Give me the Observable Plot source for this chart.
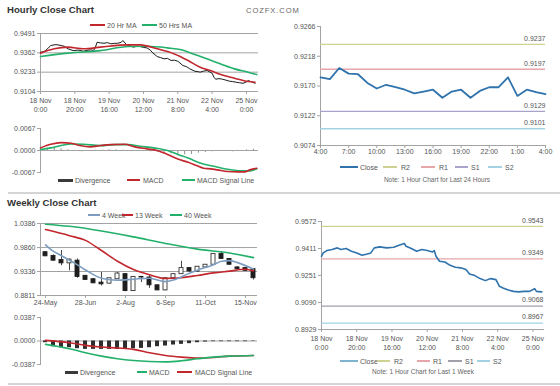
<!DOCTYPE html>
<html><head><meta charset="utf-8">
<script src="https://cdn.jsdelivr.net/npm/d3@7"></script>
<script src="https://cdn.jsdelivr.net/npm/@observablehq/plot@0.6"></script>
<style>
body{margin:0;background:#fff;}
#root{position:relative;width:560px;height:386px;overflow:hidden;font-family:"Liberation Sans",Arial,sans-serif;background:#fff;}
.t{position:absolute;white-space:nowrap;}
</style></head><body><div id="root"></div>
<script>
// ---------- DATA ----------
// Hourly (last week) chart: hour index from 18 Nov 0:00 (weekend removed)
const hourTickIdx = [0, 20, 40, 60, 80, 100, 120];
const hourTickLabels = ["18 Nov\n0:00", "18 Nov\n20:00", "19 Nov\n16:00", "20 Nov\n12:00", "21 Nov\n8:00", "22 Nov\n4:00", "25 Nov\n0:00"];
const hourYTicks = [0.9104, 0.9233, 0.9362, 0.9491];
const hCloseIdx = [0,2,3,5,6,9,12,14,16,19,22,25,27,29,31,32,33,35,37,39,41,43,45,47,48,50,52,54,56,58,60,62,64,65,68,70,72,74,76,78,80,83,85,87,90,92,93,95,97,100,101,102,104,106,108,110,112,114,116,118,120,121,123,125];
const hCloseVal = [0.9366,0.9370,0.9377,0.9400,0.9411,0.9417,0.9411,0.9405,0.9389,0.9377,0.9380,0.9373,0.9378,0.9382,0.9378,0.9400,0.9433,0.9428,0.9426,0.9430,0.9422,0.9425,0.9426,0.9432,0.9444,0.9418,0.9410,0.9400,0.9405,0.9404,0.9398,0.9395,0.9380,0.9366,0.9337,0.9330,0.9322,0.9325,0.9311,0.9313,0.9306,0.9277,0.9270,0.9255,0.9239,0.9236,0.9233,0.9240,0.9244,0.9226,0.9200,0.9186,0.9190,0.9186,0.9180,0.9173,0.9170,0.9166,0.9162,0.9159,0.9168,0.9177,0.9168,0.9159];
const ma20Idx = [0,8,16,25,35,51,58,68,78,86,93,99,105,113,121,125];
const ma20Val = [0.9360,0.9389,0.9400,0.9389,0.9400,0.9415,0.9415,0.9389,0.9355,0.9311,0.9266,0.9244,0.9217,0.9193,0.9171,0.9166];
const ma50Idx = [0,16,35,51,62,74,82,89,97,105,113,121,126];
const ma50Val = [0.9337,0.9360,0.9377,0.9404,0.9406,0.9395,0.9382,0.9355,0.9322,0.9288,0.9255,0.9233,0.9217];
// Hourly MACD
const macdHYTicks = [-0.0067, 0.0000, 0.0067];
const macdHIdx = [0,6,12,18,23,29,35,41,49,55,62,68,74,80,86,91,95,99,103,109,115,119,122,126];
const macdHVal = [0.0008,0.0019,0.0024,0.0022,0.0015,0.0011,0.0015,0.0018,0.0019,0.0011,0.0005,0.0000,-0.0012,-0.0026,-0.0036,-0.0046,-0.0054,-0.0056,-0.0059,-0.0064,-0.0065,-0.0065,-0.0059,-0.0054];
const sigHIdx = [0,6,12,18,25,35,43,51,58,66,74,80,86,93,101,109,117,122,126];
const sigHVal = [0.0003,0.0008,0.0015,0.0020,0.0019,0.0015,0.0018,0.0018,0.0013,0.0008,0.0000,-0.0012,-0.0023,-0.0038,-0.0048,-0.0057,-0.0062,-0.0062,-0.0056];
const divHIdx = [0,4,8,12,16,20,24,28,32,36,40,44,48,52,56,60,64,68,72,76,80,84,88,92,96,100,104,108,112,116,120,124];
const divHVal = [0.0005,0.0007,0.0008,0.0005,0.0002,-0.0002,-0.0004,-0.0003,0.0001,0.0001,0.0002,0.0002,0.0001,-0.0001,-0.0002,-0.0003,-0.0004,-0.0006,-0.0008,-0.0010,-0.0012,-0.0013,-0.0012,-0.0008,-0.0006,-0.0004,-0.0002,-0.0003,-0.0004,-0.0001,0.0002,0.0004];
// Last 24 hours chart
const h24Labels = ["4:00","7:00","10:00","13:00","16:00","19:00","22:00","1:00","4:00"];
const h24TickIdx = [0,3,6,9,12,15,18,21,24];
const h24YTicks = [0.9074, 0.9122, 0.9170, 0.9218, 0.9266];
const h24Close = [0.9184,0.9181,0.9199,0.9190,0.9189,0.9175,0.9166,0.9172,0.9168,0.9164,0.9158,0.9161,0.9164,0.9151,0.9161,0.9164,0.9151,0.9162,0.9168,0.9168,0.9184,0.9154,0.9164,0.9160,0.9157];
const pivotNames = ["R2", "R1", "S1", "S2"];
const pivot24 = [0.9237, 0.9197, 0.9129, 0.9101];
// Weekly chart
const weeks = ["24-May","31-May","7-Jun","14-Jun","21-Jun","28-Jun","5-Jul","12-Jul","19-Jul","26-Jul","2-Aug","9-Aug","16-Aug","23-Aug","30-Aug","6-Sep","13-Sep","20-Sep","27-Sep","4-Oct","11-Oct","18-Oct","25-Oct","1-Nov","8-Nov","15-Nov","22-Nov"];
const weekTicks = ["24-May","28-Jun","2-Aug","6-Sep","11-Oct","15-Nov"];
const weekYTicks = [0.8811, 0.9336, 0.9860, 1.0386];
const wOpen  = [0.9758,0.9677,0.9588,0.9514,0.9573,0.9241,0.9167,0.9093,0.9071,0.9167,0.9278,0.8908,0.9218,0.9204,0.9034,0.8923,0.9189,0.9278,0.9411,0.9329,0.9425,0.9484,0.9721,0.9610,0.9425,0.9411,0.9388];
const wHigh  = [0.9773,0.9699,0.9795,0.9610,0.9610,0.9250,0.9180,0.9315,0.9100,0.9315,0.9292,0.9218,0.9218,0.9241,0.9040,0.9200,0.9290,0.9558,0.9420,0.9440,0.9484,0.9721,0.9773,0.9620,0.9440,0.9420,0.9390];
const wLow   = [0.9660,0.9558,0.9462,0.9351,0.9189,0.9140,0.9070,0.9019,0.9060,0.9160,0.8893,0.8900,0.9093,0.8967,0.8915,0.8915,0.9180,0.9270,0.9320,0.9320,0.9420,0.9480,0.9600,0.9470,0.9380,0.9340,0.9150];
const wClose = [0.9669,0.9573,0.9514,0.9595,0.9218,0.9152,0.9078,0.9056,0.9189,0.9292,0.8908,0.9218,0.9204,0.9034,0.8923,0.9189,0.9278,0.9411,0.9337,0.9440,0.9484,0.9721,0.9610,0.9484,0.9388,0.9351,0.9189];
const ma4Idx = [0,1,2,4,5,7,9,11,13,15,16,18,19,21,22,23,24,26];
const ma4Val = [0.9920,0.9775,0.9680,0.9480,0.9370,0.9189,0.9144,0.9167,0.9189,0.9115,0.9150,0.9300,0.9366,0.9484,0.9560,0.9573,0.9530,0.9388];
const ma13Idx = [0,3,5,7,9,11,13,15,17,19,21,23,25,26];
const ma13Val = [1.0253,1.0120,1.0017,0.9795,0.9560,0.9380,0.9265,0.9185,0.9200,0.9250,0.9305,0.9345,0.9385,0.9350];
const ma40Idx = [0,3,7,11,15,19,23,26];
const ma40Val = [1.0371,1.0325,1.0223,1.0093,0.9950,0.9825,0.9740,0.9640];
// Weekly MACD
const macdWYTicks = [-0.0387, 0.0000, 0.0387];
const macdWIdx = [0,3,5,7,9,11,13,15,17,19,21,23,26];
const macdWVal = [-0.0055,-0.0127,-0.0194,-0.0249,-0.0293,-0.0321,-0.0337,-0.0343,-0.0326,-0.0293,-0.0265,-0.0249,-0.0238];
const sigWVal  = [0.0011,-0.0028,-0.0072,-0.0100,-0.0116,-0.0138,-0.0194,-0.0238,-0.0265,-0.0282,-0.0271,-0.0249,-0.0238];
const divWVal = [-0.0028,-0.0094,-0.0111,-0.0111,-0.0127,-0.0138,-0.0138,-0.0138,-0.0138,-0.0138,-0.0138,-0.0127,-0.0122,-0.0111,-0.0094,-0.0083,-0.0066,-0.0055,-0.0044,-0.0028,-0.0017,-0.0011,-0.0011,-0.0011,-0.0011,-0.0011,-0.0006];
// Last week hourly chart
const wkYTicks = [0.8929, 0.9090, 0.9251, 0.9411, 0.9572];
const wkHIdx = [0,1,3,6,9,11,14,17,20,23,26,28,30,33,37,41,44,47,48,51,54,57,60,63,64,65,67,70,73,76,79,82,84,87,90,93,96,99,101,103,106,109,112,115,118,121,122,125];
const wkHVal = [0.9365,0.9385,0.9399,0.9405,0.9415,0.9405,0.9411,0.9395,0.9385,0.9371,0.9379,0.9385,0.9415,0.9421,0.9415,0.9419,0.9431,0.9441,0.9425,0.9411,0.9395,0.9405,0.9399,0.9391,0.9399,0.9365,0.9335,0.9331,0.9311,0.9300,0.9296,0.9286,0.9260,0.9250,0.9232,0.9220,0.9232,0.9226,0.9186,0.9176,0.9164,0.9156,0.9153,0.9156,0.9156,0.9172,0.9156,0.9153];
const pivotWeek = [0.9543, 0.9349, 0.9068, 0.8967];

// ---------- STYLE ----------
const RED = "#c1272d", GREEN = "#22b06a", STEEL = "#7c9dc0", BLUE = "#2f72ac", GRID = "#a3a3a3", TXT = "#555";
const pivotColors = ["#cdd192", "#e6a6aa", "#a7a3cb", "#a3d3e2"];
const pivotColorsW = ["#cdd192", "#e6a6aa", "#a0a0aa", "#a3d3e2"];
const FONT = '"Liberation Sans", Arial, sans-serif';
const base = {fontFamily: FONT, fontSize: "7px", color: TXT, background: "none", overflow: "visible"};
const f4 = d => d.toFixed(4);
const pts = (idx, val) => idx.map((x, i) => ({x, y: val[i]}));

const root = document.getElementById("root");
function place(node, left, top) {
  const w = document.createElement("div");
  w.style.cssText = `position:absolute;left:${left}px;top:${top}px;`;
  w.appendChild(node); root.appendChild(w);
}
function text(str, left, top, css) {
  const d = document.createElement("div"); d.className = "t";
  d.style.cssText += `left:${left}px;top:${top}px;` + css;
  d.textContent = str; root.appendChild(d); return d;
}
function box(left, top, w, h, color) {
  const d = document.createElement("div");
  d.style.cssText = `position:absolute;left:${left}px;top:${top}px;width:${w}px;height:${h}px;background:${color};`;
  root.appendChild(d);
}
function legend(items, y) {
  for (const it of items) {
    if (it.bar) box(it.x1, y - 1.5, it.x2 - it.x1, 3, "#3a3a3a");
    else box(it.x1, y - 0.75, it.x2 - it.x1, 1.5, it.color);
    text(it.label, it.tx, y - 4.5, `font-size:7px;line-height:9px;color:${TXT};`);
  }
}
const lineTick = {tickSize: 3, stroke: GRID, fill: TXT, fontSize: 7, label: null};

// ---------- Panel A: hourly close ----------
place(Plot.plot({
  width: 270, height: 100, marginLeft: 40, marginRight: 12, marginTop: 13, marginBottom: 29, style: base,
  x: {domain: [0, 127], label: null}, y: {domain: [0.9104, 0.9491], label: null},
  marks: [
    Plot.ruleY(hourYTicks, {stroke: GRID}),
    Plot.frame({anchor: "left", stroke: GRID}),
    Plot.axisY({...lineTick, ticks: hourYTicks, tickFormat: f4, tickPadding: 2}),
    Plot.axisX({...lineTick, ticks: hourTickIdx, tickFormat: d => hourTickLabels[hourTickIdx.indexOf(d)], lineHeight: 1.3, tickPadding: 2}),
    Plot.line(pts(hCloseIdx, hCloseVal), {x: "x", y: "y", stroke: "#1a1a1a", strokeWidth: 1}),
    Plot.line(pts(ma50Idx, ma50Val), {x: "x", y: "y", stroke: GREEN, strokeWidth: 1.6, curve: "monotone-x"}),
    Plot.line(pts(ma20Idx, ma20Val), {x: "x", y: "y", stroke: RED, strokeWidth: 1.6, curve: "monotone-x"})
  ]
}), 0, 20);

// ---------- Panel B: hourly MACD ----------
place(Plot.plot({
  width: 270, height: 62, marginLeft: 40, marginRight: 12, marginTop: 8, marginBottom: 10, style: base,
  x: {domain: [0, 127], axis: null}, y: {domain: [-0.0067, 0.0067], label: null},
  marks: [
    Plot.ruleX(pts(divHIdx, divHVal), {x: "x", y1: 0, y2: "y", stroke: "#8a8a8a", strokeWidth: 1}),
    Plot.ruleY([0], {stroke: GRID}),
    Plot.frame({anchor: "left", stroke: GRID}),
    Plot.axisY({...lineTick, ticks: macdHYTicks, tickFormat: f4, tickPadding: 2}),
    Plot.line(pts(sigHIdx, sigHVal), {x: "x", y: "y", stroke: GREEN, strokeWidth: 1.6, curve: "monotone-x"}),
    Plot.line(pts(macdHIdx, macdHVal), {x: "x", y: "y", stroke: RED, strokeWidth: 1.6, curve: "monotone-x"})
  ]
}), 0, 120);

// ---------- Panel C: last 24 hours ----------
const piv24 = pivot24.map((v, i) => ({v, c: pivotColors[i]}));
place(Plot.plot({
  width: 280, height: 144, marginLeft: 40, marginRight: 15, marginTop: 11, marginBottom: 14, style: base,
  x: {domain: [0, 24], label: null}, y: {domain: [0.9074, 0.9266], label: null},
  marks: [
    Plot.frame({anchor: "left", stroke: GRID}),
    Plot.frame({anchor: "bottom", stroke: GRID}),
    Plot.axisY({...lineTick, ticks: h24YTicks, tickFormat: f4, tickPadding: 2}),
    Plot.axisX({...lineTick, ticks: h24TickIdx, tickFormat: d => h24Labels[h24TickIdx.indexOf(d)], tickPadding: 1}),
    ...piv24.map(p => Plot.ruleY([p.v], {stroke: p.c, strokeWidth: 1.3})),
    Plot.text(pivot24, {y: d => d, text: f4, frameAnchor: "right", textAnchor: "end", dy: -6, fill: TXT}),
    Plot.line(h24Close, {x: (d, i) => i, y: d => d, stroke: BLUE, strokeWidth: 1.8})
  ]
}), 280, 15);

// ---------- Panel D: weekly candles ----------
const wk = weeks.map((w, i) => ({w, o: wOpen[i], h: wHigh[i], l: wLow[i], c: wClose[i]}));
const wpts = (idx, val) => idx.map((i, j) => ({x: weeks[i], y: val[j]}));
const bandX = {type: "band", domain: weeks, paddingInner: 0.5, paddingOuter: 0, label: null};
place(Plot.plot({
  width: 270, height: 100, marginLeft: 40, marginRight: 13, marginTop: 13, marginBottom: 15, style: base,
  x: bandX, y: {domain: [0.8811, 1.0386], label: null},
  marks: [
    Plot.ruleY(weekYTicks, {stroke: GRID}),
    Plot.frame({anchor: "left", stroke: GRID}),
    Plot.axisY({...lineTick, ticks: weekYTicks, tickFormat: f4, tickPadding: 2}),
    Plot.axisX({...lineTick, ticks: weekTicks, tickPadding: 2}),
    Plot.ruleX(wk, {x: "w", y1: "l", y2: "h", stroke: "#333", strokeWidth: 0.9}),
    Plot.barY(wk.filter(d => d.c >= d.o), {x: "w", y1: "o", y2: "c", fill: "#fff", stroke: "#333", strokeWidth: 0.9}),
    Plot.barY(wk.filter(d => d.c < d.o), {x: "w", y1: "o", y2: "c", fill: "#1e1e1e", stroke: "#1e1e1e", strokeWidth: 0.9}),
    Plot.line(wpts(ma40Idx, ma40Val), {x: "x", y: "y", stroke: GREEN, strokeWidth: 1.6, curve: "monotone-x"}),
    Plot.line(wpts(ma13Idx, ma13Val), {x: "x", y: "y", stroke: RED, strokeWidth: 1.6, curve: "monotone-x"}),
    Plot.line(wpts(ma4Idx, ma4Val), {x: "x", y: "y", stroke: STEEL, strokeWidth: 1.6, curve: "monotone-x"})
  ]
}), 0, 210);

// ---------- Panel E: weekly MACD ----------
place(Plot.plot({
  width: 270, height: 58, marginLeft: 40, marginRight: 13, marginTop: 7, marginBottom: 4, style: base,
  x: {...bandX, axis: null}, y: {domain: [-0.0387, 0.0387], label: null},
  marks: [
    Plot.ruleY([0], {stroke: GRID}),
    Plot.barY(weeks.map((w, i) => ({x: w, y: divWVal[i]})), {x: "x", y1: 0, y2: "y", fill: "#2e2e2e"}),
    Plot.frame({anchor: "left", stroke: GRID}),
    Plot.axisY({...lineTick, ticks: macdWYTicks, tickFormat: f4, tickPadding: 2}),
    Plot.line(wpts(macdWIdx, sigWVal), {x: "x", y: "y", stroke: RED, strokeWidth: 1.6, curve: "monotone-x"}),
    Plot.line(wpts(macdWIdx, macdWVal), {x: "x", y: "y", stroke: GREEN, strokeWidth: 1.6, curve: "monotone-x"})
  ]
}), 0, 310);

// ---------- Panel F: last week hourly ----------
const pivW = pivotWeek.map((v, i) => ({v, c: pivotColorsW[i]}));
place(Plot.plot({
  width: 280, height: 145, marginLeft: 41, marginRight: 17, marginTop: 11, marginBottom: 26, style: base,
  x: {domain: [0, 126], label: null}, y: {domain: [0.8929, 0.9572], label: null},
  marks: [
    Plot.frame({anchor: "left", stroke: GRID}),
    Plot.frame({anchor: "bottom", stroke: GRID}),
    Plot.axisY({...lineTick, ticks: wkYTicks, tickFormat: f4, tickPadding: 2}),
    Plot.axisX({...lineTick, ticks: hourTickIdx, tickFormat: d => hourTickLabels[hourTickIdx.indexOf(d)], lineHeight: 1.3, tickPadding: 2}),
    ...pivW.map(p => Plot.ruleY([p.v], {stroke: p.c, strokeWidth: 1.3})),
    Plot.text(pivotWeek, {y: d => d, text: f4, frameAnchor: "right", textAnchor: "end", dy: -6, fill: TXT}),
    Plot.line(pts(wkHIdx, wkHVal), {x: "x", y: "y", stroke: BLUE, strokeWidth: 1.6})
  ]
}), 280, 210);

// ---------- Titles, legends, separators ----------
text("Hourly Close Chart", 7, 4, "font-size:9.6px;font-weight:bold;color:#333;line-height:11px;");
text("COZFX.COM", 246, 6, "font-size:7.6px;color:#666;letter-spacing:0.9px;line-height:9px;");
text("Weekly Close Chart", 7, 197, "font-size:9.6px;font-weight:bold;color:#333;line-height:11px;");
box(8, 192, 552, 2, "#d4d4d4");
box(8, 383, 552, 2, "#d4d4d4");

legend([
  {x1: 90, x2: 105, color: RED, label: "20 Hr MA", tx: 107},
  {x1: 142, x2: 157, color: GREEN, label: "50 Hrs MA", tx: 159}
], 25);
legend([
  {x1: 58, x2: 73, bar: true, label: "Divergence", tx: 75},
  {x1: 127, x2: 140, color: RED, label: "MACD", tx: 143},
  {x1: 182, x2: 195, color: GREEN, label: "MACD Signal Line", tx: 197}
], 180);
legend([
  {x1: 340, x2: 358, color: BLUE, label: "Close", tx: 360},
  {x1: 383, x2: 397, color: pivotColors[0], label: pivotNames[0], tx: 401},
  {x1: 421, x2: 435, color: pivotColors[1], label: pivotNames[1], tx: 439},
  {x1: 455, x2: 468, color: pivotColors[2], label: pivotNames[2], tx: 471},
  {x1: 488, x2: 502, color: pivotColors[3], label: pivotNames[3], tx: 505}
], 167);
text("Note: 1 Hour Chart for Last 24 Hours", 437, 176, "font-size:6.5px;line-height:8px;color:#666;transform:translateX(-50%);");
legend([
  {x1: 88, x2: 100, color: STEEL, label: "4 Week", tx: 102},
  {x1: 122, x2: 133, color: RED, label: "13 Week", tx: 135},
  {x1: 170, x2: 182, color: GREEN, label: "40 Week", tx: 184}
], 215);
legend([
  {x1: 65, x2: 78, bar: true, label: "Divergence", tx: 80},
  {x1: 137, x2: 147, color: GREEN, label: "MACD", tx: 149},
  {x1: 177, x2: 192, color: RED, label: "MACD Signal Line", tx: 195}
], 372);
legend([
  {x1: 340, x2: 358, color: "#7fb3cf", label: "Close", tx: 360},
  {x1: 377, x2: 390, color: pivotColorsW[0], label: pivotNames[0], tx: 394},
  {x1: 417, x2: 430, color: pivotColorsW[1], label: pivotNames[1], tx: 433},
  {x1: 448, x2: 462, color: pivotColorsW[2], label: pivotNames[2], tx: 465},
  {x1: 477, x2: 490, color: pivotColorsW[3], label: pivotNames[3], tx: 493}
], 361);
text("Note: 1 Hour Chart for Last 1 Week", 423, 368, "font-size:6.5px;line-height:8px;color:#666;transform:translateX(-50%);");
</script></body></html>
